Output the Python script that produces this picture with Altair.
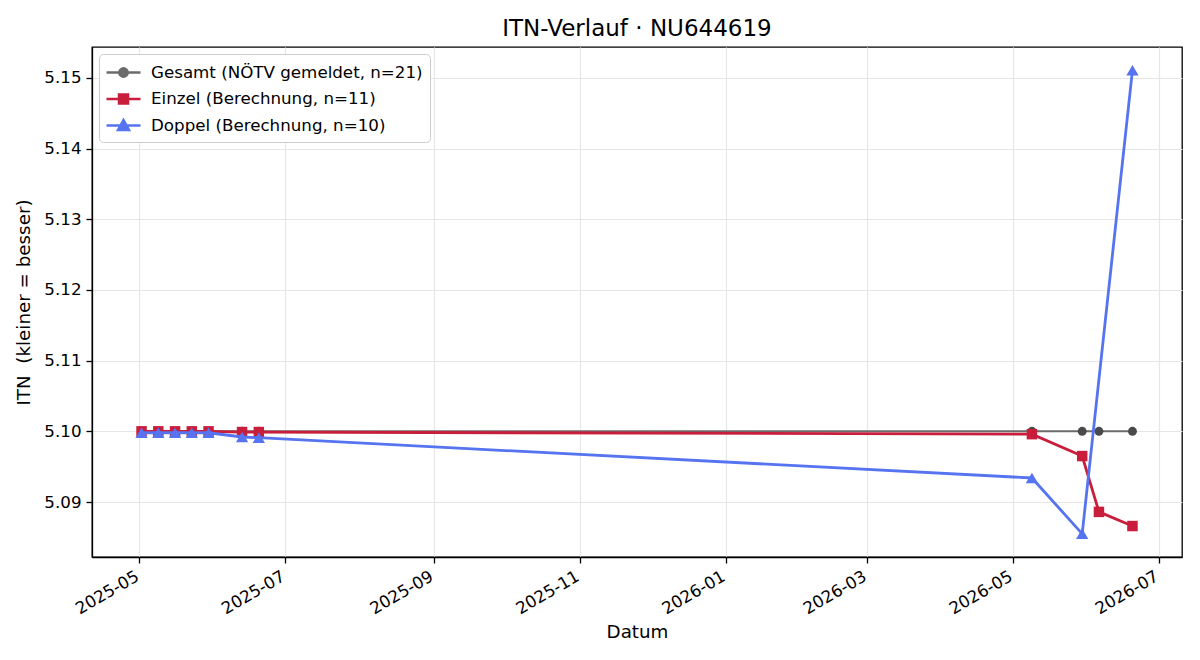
import altair as alt
import pandas as pd

# --- data -------------------------------------------------------------
gesamt_dates = ["2025-05-02", "2025-05-09", "2025-05-16", "2025-05-23", "2025-05-30",
                "2025-06-13", "2025-06-20", "2026-05-09", "2026-05-30", "2026-06-06",
                "2026-06-20"]
gesamt_itn = [5.1000, 5.1000, 5.1000, 5.1000, 5.1000, 5.1000, 5.1000, 5.1000, 5.1000,
              5.1000, 5.1000]

einzel_dates = ["2025-05-02", "2025-05-09", "2025-05-16", "2025-05-23", "2025-05-30",
                "2025-06-13", "2025-06-20", "2026-05-09", "2026-05-30", "2026-06-06",
                "2026-06-20"]
einzel_itn = [5.1000, 5.1000, 5.1000, 5.1000, 5.1000, 5.0999, 5.0999, 5.0996, 5.0965,
              5.0886, 5.0866]

doppel_dates = ["2025-05-02", "2025-05-09", "2025-05-16", "2025-05-23", "2025-05-30",
                "2025-06-13", "2025-06-20", "2026-05-09", "2026-05-30", "2026-06-20"]
doppel_itn = [5.0998, 5.0998, 5.0998, 5.0998, 5.0998, 5.0992, 5.0991, 5.0934, 5.0855,
              5.1511]

series_names = ["Gesamt (NÖTV gemeldet, n=21)", "Einzel (Berechnung, n=11)",
                "Doppel (Berechnung, n=10)"]
series_colors = ["#6b6b6b", "#c81e3c", "#5673f0"]
marker_colors = ["#4a4a4a", "#c81e3c", "#5673f0"]
marker_shapes = ["circle", "square", "triangle-up"]
marker_sizes = [80, 110, 150]
line_widths = [2.0, 2.8, 2.8]

y_ticks = [5.09, 5.10, 5.11, 5.12, 5.13, 5.14, 5.15]
x_tick_months = [(2025, 5), (2025, 7), (2025, 9), (2025, 11), (2026, 1), (2026, 3),
                 (2026, 5), (2026, 7)]

FONT = "DejaVu Sans"


def frame(dates, values):
    return pd.DataFrame({"datum": [d + "T00:00:00" for d in dates], "itn": values})


frames = [frame(gesamt_dates, gesamt_itn), frame(einzel_dates, einzel_itn),
          frame(doppel_dates, doppel_itn)]

x_scale = alt.Scale(domain=[alt.DateTime(year=2025, month=4, date=11, hours=7, minutes=12),
                            alt.DateTime(year=2026, month=7, date=10, hours=16, minutes=48)],
                    nice=False)
y_scale = alt.Scale(domain=[5.08222, 5.15438], nice=False, zero=False)

x_axis = alt.Axis(title="Datum", format="%Y-%m",
                  values=[alt.DateTime(year=y, month=m, date=1) for y, m in x_tick_months],
                  labelAngle=-30, labelAlign="right", labelBaseline="top",
                  labelFlush=False, labelOverlap=False, labelBound=False, labelOffset=-6)
y_axis = alt.Axis(title="ITN\u00a0 (kleiner = besser)", values=y_ticks, format=".2f")

x_enc = alt.X("datum:T", scale=x_scale, axis=x_axis)
y_enc = alt.Y("itn:Q", scale=y_scale, axis=y_axis)

layers = []
for df, col, mcol, shp, sz, lw in zip(frames, series_colors, marker_colors, marker_shapes,
                                      marker_sizes, line_widths):
    layers.append(alt.Chart(df).mark_line(color=col, strokeWidth=lw).encode(x=x_enc, y=y_enc))
    layers.append(alt.Chart(df).mark_point(shape=shp, filled=True, size=sz, color=mcol,
                                           opacity=1).encode(x=x_enc, y=y_enc))

# legend symbols: a short line with the series marker on top
seg = "M-1.7,0H1.7"
legend_paths = [
    seg + "M0.42,0A0.42,0.42,0,1,1,-0.42,0A0.42,0.42,0,1,1,0.42,0Z",
    seg + "M-0.45,-0.45H0.45V0.45H-0.45Z",
    seg + "M0,-0.55L0.55,0.45L-0.55,0.45Z",
]
legend_df = pd.DataFrame({"serie": series_names})
legend_layer = alt.Chart(legend_df).transform_filter("false").mark_point().encode(
    fill=alt.Fill("serie:N", scale=alt.Scale(domain=series_names, range=series_colors),
                  legend=alt.Legend(title=None)),
    stroke=alt.Stroke("serie:N", scale=alt.Scale(domain=series_names, range=series_colors),
                      legend=alt.Legend(title=None)),
    shape=alt.Shape("serie:N", scale=alt.Scale(domain=series_names, range=legend_paths),
                    legend=alt.Legend(title=None)),
)
layers.append(legend_layer)

chart = alt.layer(*layers).properties(
    width=1090, height=510,
    title=alt.Title("ITN-Verlauf · NU644619", fontSize=23, font=FONT, fontWeight="normal",
                    color="black", anchor="middle", offset=6),
    autosize=alt.AutoSizeParams(type="none"),
    padding={"left": 92, "top": 47, "right": 18, "bottom": 103},
).configure_view(
    stroke="black", strokeWidth=1.3
).configure_axis(
    labelFont=FONT, labelFontSize=16.7, labelColor="black",
    titleFont=FONT, titleFontSize=18.3, titleFontWeight="normal", titleColor="black",
    tickColor="black", tickSize=6, tickWidth=1.3, domainColor="black", domainWidth=1.3,
    gridColor="#e6e6e6", gridWidth=1.2, labelPadding=5,
).configure_axisY(
    titlePadding=10
).configure_axisX(
    titlePadding=6
).configure_legend(
    orient="top-left", offset=7, fillColor="white", strokeColor="#cccccc", cornerRadius=4,
    padding=7, labelFont=FONT, labelFontSize=16.7, labelColor="black", labelLimit=500,
    symbolSize=400, symbolStrokeWidth=2.5, symbolOffset=6, labelOffset=16, rowPadding=5.5,
    symbolOpacity=1,
)

chart.save("out.html", embed_options={"renderer": "svg", "actions": False})
